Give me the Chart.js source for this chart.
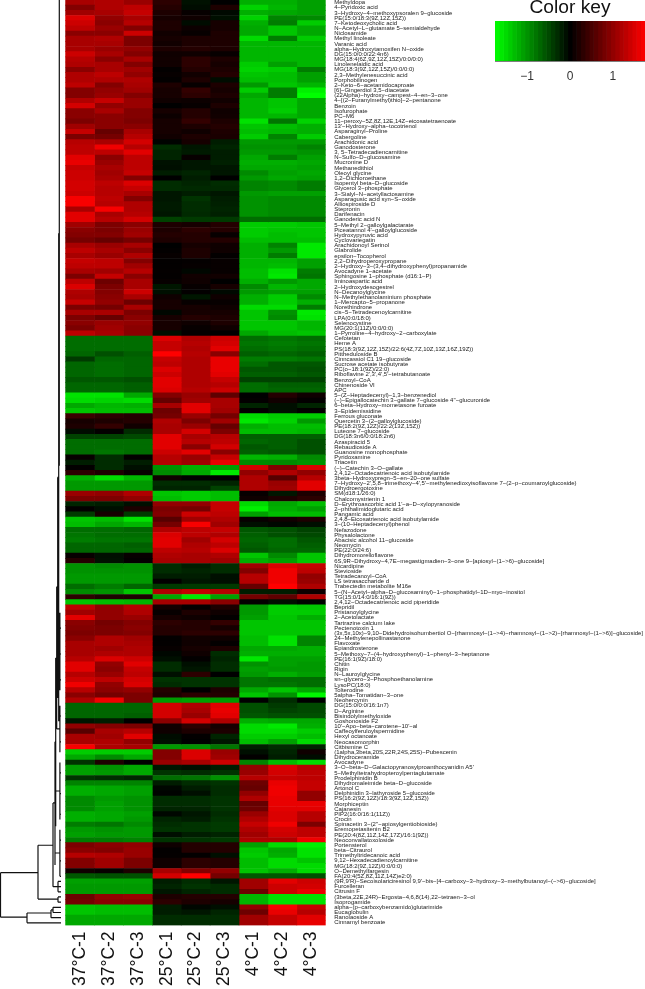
<!DOCTYPE html>
<html>
<head>
<meta charset="utf-8">
<script src="https://cdn.jsdelivr.net/npm/chart.js@4"></script>
<style>
  body { margin: 0; background: #fff; }
  #wrap { position: relative; width: 645px; height: 989px; overflow: hidden; }
  #heatChart { position: absolute; left: 0; top: 0; }
  #keyChart { position: absolute; left: 495px; top: 0; }
</style>
</head>
<body>
<div id="wrap">
  <canvas id="heatChart" width="645" height="989"></canvas>
  <canvas id="keyChart" width="150" height="95"></canvas>
</div>
<script>
const samples = ["37°C-1", "37°C-2", "37°C-3", "25°C-1", "25°C-2", "25°C-3", "4°C-1", "4°C-2", "4°C-3"];

const compounds = [
  "Methyldopa", "4-Pyridoxic acid", "3-Hydroxy-4-methoxypsoralen 9-glucoside", "PE(15:0/18:3(9Z,12Z,15Z))",
  "7-Ketodeoxycholic acid", "N-Acetyl-L-glutamate 5-semialdehyde", "Niclosamide", "Methyl linoleate",
  "Varanic acid", "alpha-Hydroxytamoxifen N-oxide", "DG(15:0/0:0/22:4n6)", "MG(18:4(6Z,9Z,12Z,15Z)/0:0/0:0)",
  "Linolenelaidic acid", "MG(18:3(9Z,12Z,15Z)/0:0/0:0)", "2,3-Methylenesuccinic acid", "Porphobilinogen",
  "2-Keto-6-acetamidocaproate", "[6]-Gingerdiol 3,5-diacetate", "(22Alpha)-hydroxy-campest-4-en-3-one",
  "4-[(2-Furanylmethyl)thio]-2-pentanone", "Benzoin", "Isofurophate", "PC-M6",
  "11-peroxy-5Z,8Z,12E,14Z-eicosatetraenoate", "13'-Hydroxy-alpha-tocotrienol", "Asparaginyl-Proline",
  "Cabergoline", "Arachidonic acid", "Ganodosterone", "3, 5-Tetradecadiencarnitine", "N-Sulfo-D-glucosamine",
  "Mucronine D", "Methanedithiol", "Oleoyl glycine", "1,2-Dichloroethane", "Isopentyl beta-D-glucoside",
  "Glycerol 3-phosphate", "3-Sialyl-N-acetyllactosamine", "Asparagusic acid syn-S-oxide", "Alliospiroside D",
  "Stepronin", "Darifenacin", "Ganoderic acid N", "5-Methyl 2-galloylgalactarate",
  "Piceatannol 4'-galloylglucoside", "Hydroxypyruvic acid", "Cyclovariegatin", "Arachidonoyl Serinol",
  "Glabrolide", "epsilon-Tocopherol", "2,2-Dihydroperoxypropane", "2-Hydroxy-3-(3,4-dihydroxyphenyl)propanamide",
  "Avocadyne 1-acetate", "Sphingosine 1-phosphate (d16:1-P)", "Iminoaspartic acid", "2-Hydroxydesogestrel",
  "N-Decanoylglycine", "N-Methylethanolaminium phosphate", "1-Mercapto-5-propanone", "Norethindrone",
  "cis-5-Tetradecenoylcarnitine", "LPA(0:0/18:0)", "Selenocystine", "MG(20:1(11Z)/0:0/0:0)",
  "1-Pyrroline-4-hydroxy-2-carboxylate", "Cefotetan", "Heme A", "PS(18:3(9Z,12Z,15Z)/22:6(4Z,7Z,10Z,13Z,16Z,19Z))",
  "Pittheduloside B", "Cinncassiol C1 19-glucoside", "Sucrose acetate isobutyrate", "PC(o-18:1(9Z)/22:0)",
  "Riboflavine 2',3',4',5'-tetrabutanoate", "Benzoyl-CoA", "Chinenoside VI", "APC",
  "5-(Z-Heptadecenyl)-1,3-benzenediol", "(-)-Epigallocatechin 3-gallate 7-glucoside 4''-glucuronide",
  "6-beta-Hydroxy-mometasone furoate", "3-Epidemissidine", "Ferrous gluconate", "Quercetin 3-(2-galloylglucoside)",
  "PE(18:2(9Z,12Z)/22:2(13Z,15Z))", "Luteone 7-glucoside", "DG(18:3n6/0:0/18:2n6)", "Azaspiracid 5",
  "Rebaudioside A", "Guanosine monophosphate", "Pyridoxamine", "Triacetin", "(-)-Catechin 3-O-gallate",
  "2,4,12-Octadecatrienoic acid isobutylamide", "3beta-Hydroxypregn-5-en-20-one sulfate",
  "7-Hydroxy-2',5,8-trimethoxy-4',5'-methylenedioxyisoflavone 7-(2-p-coumaroylglucoside)", "Dihydroergotoxine",
  "SM(d18:1/26:0)", "Chalcomystrienin 1", "D-Erythroascorbic acid 1'-a-D-xylopyranoside",
  "2-phthalimidoglutaric acid", "Pangamic acid", "2,4,8-Eicosatrienoic acid isobutylamide",
  "3-(10-Heptadecenyl)phenol", "Nefazodone", "Physalolactone", "Abacisic alcohol 11-glucoside", "Neomycin",
  "PE(22:0/24:6)", "Dihydromorelloflavone", "6S,9R-Dihydroxy-4,7E-megastigmadien-3-one 9-[apiosyl-(1->6)-glucoside]",
  "Nicardipine", "Stevioside", "Tetradecanoyl-CoA", "LS tetrasaccharide d", "Trabectedin metabolite M16e",
  "5-(N-Acetyl-alpha-D-glucosaminyl)-1-phosphatidyl-1D-myo-inositol", "TG(15:0/14:0/16:1(9Z))",
  "2,4,12-Octadecatrienoic acid piperidide", "Bepridil", "Pristanoylglycine", "2-Acetolactate",
  "Tartrazine calcium lake", "Pectenotoxin 1",
  "(3x,5x,10x)-9,10-Didehydroisohumbertiol O-[rhamnosyl-(1->4)-rhamnosyl-(1->2)-[rhamnosyl-(1->6)]-glucoside]",
  "24-Methylenepollinastanone", "Flavoxate", "Epiandrosterone", "5-Methoxy-7-(4-hydroxyphenyl)-1-phenyl-3-heptanone",
  "PE(16:1(9Z)/18:0)", "Chitin", "Rigin", "N-Lauroylglycine", "sn-glycero-3-Phosphoethanolamine", "LysoPC(18:0)",
  "Tolterodine", "5alpha-Tomatidan-3-one", "Neohercynin", "DG(15:0/0:0/16:1n7)", "D-Arginine",
  "Bisindolylmethyloxide", "Goshonoside F2", "10'-Apo-beta-carotene-10'-al", "Caffeoylferuloylspermidine",
  "Hexyl octanoate", "Neocasomorphin", "Citbismine C", "(1alpha,3beta,20S,22R,24S,25S)-Pubescenin",
  "Dihydroceramide", "Avocadyne", "3-O-beta-D-Galactopyranosylproanthocyanidin A5'",
  "5-Methyltetrahydropteroylpentaglutamate", "Prodelphinidin B", "Dihydromaleimide beta-D-glucoside", "Artonol C",
  "Delphinidin 3-lathyroside 5-glucoside", "PS(16:2(9Z,12Z)/18:3(9Z,12Z,15Z))", "Morphiceptin", "Cajanesin",
  "PIP2(16:0/16:1(11Z))", "Crocin", "Spinacetin 3-(2''-apiosylgentiobioside)", "Eremopetasitenin B2",
  "PE(20:4(8Z,11Z,14Z,17Z)/16:1(9Z))", "Neoconvallatoxoloside", "Portensterol", "beta-Citraurol",
  "Trimethyltridecanoic acid", "9,12-Hexadecadienoylcarnitine", "MG(18:2(9Z,12Z)/0:0/0:0)", "O-Demethylfargesin",
  "FA(20:4(5Z,8Z,11Z,14Z)e2:0)",
  "(9R,9'R)-Secoisolariciresinol 9,9'-bis-[4-carboxy-3-hydroxy-3-methylbutanoyl-(->6)-glucoside]",
  "Furcelleran", "Citrusin F", "(3beta,22E,24R)-Ergosta-4,6,8(14),22-tetraen-3-ol", "Isoprogamide",
  "alpha-(p-carboxybenzamido)glutarimide", "Eucaglobulin", "Ranolaoside A", "Cinnamyl benzoate",
];

// row z-scores, columns in the same order as samples
const zScores = [
  [1.15,1.2,1.05,.3,-.12,0,-1.2,-1.2,-1.1], [.9,1.2,1.3,.25,-.08,.2,-1.45,-1.25,-1.1],
  [1.1,1.15,1.35,.2,.05,-.06,-1.2,-1.15,-1.1], [1.5,1,1.15,.15,.1,-.1,-1.45,-.9,-.95],
  [1.4,.95,1.25,.2,-.08,.15,-1.2,-.85,-1.4], [1.3,1.05,.9,.2,.08,.15,-1.15,-1.35,-1.15],
  [.95,.95,1.4,.12,.05,.2,-1.15,-1.35,-1.15], [1.15,1.2,.85,.15,.2,.2,-1.5,-.85,-1.4],
  [1.15,1.15,.85,.12,.2,.2,-1.25,-1.25,-1.25], [1.15,1.05,1,.2,.25,.2,-1.25,-1.25,-1.25],
  [1.4,1.15,.9,.1,.1,.05,-1.25,-1.25,-1.25], [1.25,.95,1.15,.12,.3,.2,-1.25,-1.25,-1.25],
  [1.2,1.15,.9,.12,.3,.15,-1.4,-1.1,-1.25], [.95,1.15,1.1,.02,.25,.2,-1.45,-1.4,-.85],
  [1.2,1.3,1,.05,.12,.25,-1.35,-1.3,-1.1], [1.2,1.2,1.2,.02,.2,-.08,-1.3,-1.3,-1.1],
  [1.3,.9,1.15,.2,.05,.2,-1.05,-1.35,-1.25], [.9,1,1.1,.15,.35,.15,-1.4,-.85,-1.65],
  [.9,1.05,.9,.15,.3,.2,-1.15,-.85,-1.75], [1.2,1.35,1.05,.1,.08,.12,-1.25,-1.35,-1.15],
  [1.45,1,1.05,0,.05,.2,-1.25,-1.35,-1.15], [.95,1.15,.9,.15,.25,.1,-1.25,-1.4,-1.15],
  [.95,.95,.9,.08,.25,.12,-1.25,-1.25,-1.15], [.85,.95,.85,.15,.35,.2,-1.55,-.8,-1.45],
  [1.1,.95,.95,.15,.2,.25,-1.35,-1.3,-1.2], [1.35,.7,1.15,.15,.1,.2,-1.3,-1.25,-1.2],
  [.85,.8,1.25,.12,.2,.18,-1.4,-.9,-1.4], [1.25,1.15,1.45,-.02,.15,-.2,-1.05,-1.05,-1.05],
  [1.3,1.65,1.25,-.3,-.15,-.25,-1,-1,-.9], [1.3,1.3,1.55,-.25,-.18,-.2,-1.05,-1.05,-1],
  [1.55,.95,1.3,-.25,.05,-.2,-1.15,-.85,-1.1], [1.6,1.05,1.3,-.12,-.15,-.22,-1.2,-1.2,-1.15],
  [1.35,1.15,1.3,-.1,-.15,-.15,-1.15,-1.15,-1.1], [1.4,1.1,1.35,-.2,-.25,-.15,-.95,-1.1,-1.15],
  [1.4,1.15,.9,0,-.2,0,-1.05,-1.15,-1.1], [1.45,1.3,1.5,-.3,-.25,-.3,-.9,-.95,-.85],
  [1.45,1.25,1.35,-.3,-.28,-.28,-.9,-.95,-.85], [1.4,1.25,1.15,-.15,-.2,-.15,-1.05,-1.1,-1.1],
  [1.7,1.3,.9,-.15,-.35,-.2,-1,-.95,-.95], [1.7,1.25,1.2,-.18,-.3,-.22,-1,-.95,-.95],
  [1.15,1.7,1.2,-.18,-.3,-.25,-1,-.95,-.95], [1.55,1.15,1.25,-.15,-.28,-.22,-1,-.95,-.95],
  [1.55,1.25,1.45,-.45,-.4,-.4,-.75,-.75,-.75], [1.1,.85,.95,.2,.15,.25,-1.4,-1.4,-1.35],
  [.95,.85,1.05,.2,.3,.25,-1.4,-1.35,-1.35], [.9,.9,1.1,.25,.25,.05,-1.4,-1.3,-1.35],
  [.8,.7,.8,.2,.25,.25,-1.3,-1.3,-1.3], [1.15,1.05,1.15,0,.15,.1,-1.2,-.9,-1.6],
  [1.3,1.15,.95,.02,.2,.1,-1.2,-1.05,-1.6], [1.15,1.05,1.2,.05,.2,.02,-1.2,-.85,-1.6],
  [1.35,1.3,.9,.02,.03,.05,-1.25,-1.25,-1.1], [1.3,1.3,1.1,.02,.04,.05,-1.25,-1.3,-1.1],
  [1.15,1.1,1.25,.03,-.05,.05,-1.3,-1.55,-.85], [.85,1.35,.95,.02,.12,.12,-1.3,-1.6,-.8],
  [1.3,.75,1.15,.05,.1,0,-1.2,-1.05,-1.15], [1.5,.85,1.15,-.15,.05,.15,-.95,-1.25,-1.15],
  [1.2,.9,1.4,-.1,.02,-.06,-1.05,-1.1,-1.1], [1.15,.95,1.15,.1,-.15,.1,-1.2,-1.4,-.95],
  [1.35,1,.75,.15,.05,.05,-1.2,-1.4,-1.2], [.85,.8,1.15,.15,.15,.1,-1.5,-1.5,-.85],
  [1.15,1.15,.85,-.05,.15,.15,-1.35,-1,-1.6], [.85,.7,.95,.15,.25,.2,-1.35,-.95,-1.55],
  [.95,1.05,1,.15,.1,.2,-1.35,-1.35,-1.25], [.85,1.1,.95,.15,.05,.1,-1.35,-1.35,-1.25],
  [1.3,1.15,.95,-.1,.02,0,-1.15,-1.3,-1.35], [-.75,-.75,-.75,1.5,1.2,1.4,-.75,-.8,-.75],
  [-.75,-.75,-.75,1.35,1.25,1.45,-.8,-.85,-.8], [-.75,-.75,-.75,1.35,1.2,1.55,-.75,-.8,-.75],
  [-.7,-.55,-.65,1.75,1.25,.95,-.65,-.7,-.65], [-.4,-.7,-.7,1.35,1.2,1.6,-.85,-.85,-.8],
  [-.7,-.75,-.7,1.3,1.2,1.6,-.75,-.6,-.6], [-.7,-.75,-.7,1.5,1.2,1.6,-.6,-.6,-.55],
  [-.7,-.75,-.7,1.4,1.2,1.55,-.65,-.65,-.6], [-.6,-.6,-.55,1.55,1.2,1.35,-.45,-.45,-.45],
  [-.7,-.7,-.65,1.55,1.2,1.25,-.75,-.65,-.65], [-.7,-.7,-.65,1.5,1.25,1.4,-.75,-.7,-.7],
  [-1.55,-1.55,-1.15,.9,1.05,.65,0,.25,.1], [-1.5,-1.45,-1.5,.7,1.1,1.15,.02,.12,.02],
  [-1.15,-1.25,-1.2,1.15,1.55,1.15,-.25,-.1,-.25], [-1.35,-1.3,-1.3,.75,1.55,1.1,.02,-.1,.02],
  [.4,.3,.25,.8,1.05,.8,-1.5,-1.4,-1.4], [.15,.2,.25,1.2,.85,1.1,-1.6,-1.45,-1.05],
  [.2,.35,.12,1.15,1.05,.7,-1.2,-1.3,-1.3], [-.08,.02,-.3,1.15,1.45,.85,-1.3,-1.3,-1.25],
  [-.45,-.45,-.5,1.55,1.15,1.25,-.65,-.65,-.65], [-.75,-.75,-.75,1.55,1.25,1.3,-.7,-.65,-.55],
  [-.75,-.75,-.75,1.55,.95,1.45,-.6,-.65,-.55], [-.75,-.8,-.75,1.4,1.55,.95,-.65,-.6,-.55],
  [.05,-.3,.02,1.25,1.05,1.35,-1.25,-1.2,-.95], [-.2,-.3,-.2,1.25,1.1,1.6,-.95,-.95,-1],
  [.02,-.3,-.1,-1,-1.2,-1.1,1.45,.9,1.5], [.3,.2,.05,-.95,-1.15,-1.6,1,1.2,1],
  [-1.2,-1.5,-1.25,.1,0,0,1.2,.6,1.25], [-1.05,-1.05,-1.05,-.3,-.3,-.25,1.2,1.05,1.55],
  [-1.05,-1.05,-1.05,-.25,-.25,-.45,1.2,1.1,1.55], [1.05,1,1.2,-1.35,-1.4,-1.3,.05,-.15,.2],
  [.85,.85,1,-1.3,-1.4,-1.3,.1,.2,.3], [-.25,-.2,-.1,1,1,1.35,-1.5,-1.15,-1.3],
  [.02,-.1,.2,.85,.8,1.35,-1.65,-1.2,-1.1], [-.4,.15,-.4,.9,1.4,1.3,-1.1,-1.3,-1.3],
  [-1.35,-1.3,-1.55,.6,1.1,1.2,.05,.12,.2], [-1.3,-1.15,-1.25,.8,1.7,1.1,-.1,-.05,-.1],
  [-.75,-.75,-.7,1.2,1.3,1.35,-.6,-.55,-.45], [-.8,-.75,-.75,1.5,1.3,1.2,-.65,-.55,-.5],
  [-.85,-.8,-.8,1.55,1.1,1.45,-.7,-.75,-.6], [-.7,-.7,-.65,1.55,1.2,1.3,-.65,-.75,-.65],
  [-.7,-.7,-.7,1.3,1.25,1.5,-.6,-.7,-.7], [.05,-.1,.05,1.2,1.15,1.2,-1.35,-.95,-1.35],
  [.25,-.12,.02,1.15,1.15,1.1,-1.2,-1.1,-1.35], [-1,-.95,-1,-.3,-.2,-.3,1.1,1.5,1.35],
  [-1,-1,-1,-.3,-.25,-.3,.9,1.65,1.3], [-1.05,-1.05,-1.05,-.2,-.2,-.1,1.25,1.65,1],
  [-1.05,-1.05,-1.05,.02,-.15,-.1,1.25,1.65,1.05], [-.75,-.85,-.7,-.4,-.4,-.4,.7,1.75,1.2],
  [-.95,-1,-1.35,1.2,1.35,1.25,-.2,-.2,.1], [.3,.2,.2,-1.15,-1.6,-1.1,.8,.65,1.2],
  [-1.35,-1.3,-1.25,1.15,1.15,.95,.02,-.1,-.02], [1.3,1,1.25,.15,.02,.2,-1.05,-1.4,-1.35],
  [1.1,1,1.2,.05,.2,.1,-1.05,-1.4,-1.4], [1.55,1,1.05,.15,.1,.02,-1.1,-1.35,-1.2],
  [.95,.8,.9,.3,.25,.35,-1.35,-1.35,-1.35], [.9,.85,.95,.25,.25,.15,-1.35,-1.35,-1.35],
  [.85,.85,.9,.25,.3,.3,-1.35,-1.35,-1.35], [.95,1.2,1.1,.02,.12,.1,-1.3,-1.55,-.9],
  [1.15,1.2,1.15,.02,.1,.02,-1.3,-1.55,-.9], [1.15,1.1,1.2,.05,.15,.2,-1.15,-1.15,-1.2],
  [1.15,1.2,1.2,-.05,.1,-.3,-1.2,-1.2,-1.2], [1.25,1.5,1.4,-.1,.02,-.25,-1.6,-1.1,-1.1],
  [1.55,1,1.55,-.3,-.1,-.3,-1,-1.1,-1.05], [1.55,.95,1.35,-.3,-.15,-.3,-1.1,-1.05,-1.05],
  [1.25,1.05,1.3,-.1,.3,0,-1.05,-1.2,-1.1], [1.4,1.3,1.45,-.35,-.35,-.35,-.8,-.75,-.75],
  [1.65,1,1.5,-.3,-.35,-.35,-.8,-.8,-.75], [1.25,.95,1,.25,0,.2,-1.15,-1.35,-1.15],
  [.95,.8,.85,.2,.3,.25,-1.35,-1,-1.7], [1.2,1.65,.85,-1.05,-1.1,-1.05,0,-.3,0],
  [-.7,-.7,-.7,1.45,1.2,1.55,-.55,-.4,-.5], [-.7,-.7,-.7,1.45,1.15,1.6,-.55,-.45,-.5],
  [-.7,-.7,-.65,1.45,1.05,1.55,-.6,-.55,-.55], [-.15,-.2,0,.95,1.45,1.2,-1.2,-1.15,-1.15],
  [1,.9,.85,.1,.3,.15,-1.5,-1.6,-1.2], [.6,1.15,1.25,.1,.2,.2,-1.5,-1.5,-1.4],
  [1.15,1.1,1.55,-.08,.02,-.25,-1.4,-1.4,-1.3], [1.15,1.2,1,-.1,0,-.15,-1.3,-1.1,-1.5],
  [1.7,1.2,1.15,-1.05,-1,-.8,-.2,-.3,-.25], [-1.4,-1.4,-1.4,.9,1.5,1.05,-.1,-.25,.1],
  [-1.15,-.95,-1.15,.9,1.5,1.1,.02,-.2,-.08], [-.35,.2,0,1.05,1.15,1.4,-.9,-1.3,-1.5],
  [-1.1,-1,-1.15,-.15,-.1,-.2,1,1.5,1.25], [-1.1,-1.05,-1.15,-.35,-.3,-.35,1.05,1.45,1.3],
  [-.35,-.3,-.25,-.75,-.8,-1,1.25,1.35,1.3], [-.9,-.9,-.9,-.2,-.3,-.35,.75,1.6,1.35],
  [-1.2,-1.15,-1.1,-.05,-.2,-.3,.7,1.65,1.35], [-1.2,-1.15,-1.1,-.02,-.1,-.3,1,1.65,1],
  [-.95,-1.05,-1,-.3,-.3,-.35,1.2,1.6,1], [-.95,-1.1,-1,-.3,-.3,-.35,.7,1.6,1.6],
  [-.95,-1.1,-1,-.25,-.25,-.35,.75,1.55,1.55], [-1.2,-1.15,-1.1,-.05,-.15,-.3,1.05,1.5,1.25],
  [-1.2,-1.15,-1.05,-.25,-.2,-.35,1.2,1.5,1.25], [-.85,-.8,-.95,-.3,-.35,-.4,1.35,1.65,.85],
  [-1.05,-1,-1.05,-.35,-.35,-.4,1.2,1.45,1.3], [-1.1,-1.05,-1.05,-.1,-.2,-.25,1.1,1.4,1.3],
  [-.85,-.85,-.9,-.35,-.35,-.4,1.2,1.2,1.65], [.85,.95,1,.1,.25,.25,-1.1,-1.5,-1.65],
  [.95,.9,1.05,.02,.25,.25,-1.35,-1.15,-1.55], [1.25,1.2,1.05,.03,.02,-.1,-1.4,-1.2,-1.55],
  [.9,1.1,.85,.1,.3,.25,-1.3,-1.5,-1.35], [.9,1.1,.85,.1,.3,.25,-1.3,-1.5,-1.5],
  [.1,.05,.2,1.15,.9,1,-1.35,-1.2,-1.5], [-.6,-.55,-.55,1.45,1.75,.8,-.6,-.6,-.55],
  [-1.1,-1.1,-1.1,-.2,-.3,-.15,1.1,1.55,1.4], [-1.05,-1.05,-1.05,-.25,-.35,-.3,1.1,1.4,1.45],
  [-1.05,-1.05,-1.05,-.15,-.25,-.3,.75,1.4,1.6], [.75,1,1.05,.2,.25,.25,-1.25,-1.55,-1.55],
  [.8,.95,.95,.3,.2,.15,-1.25,-1.55,-1.55], [-1.35,-1.3,-1.3,-.2,-.05,-.1,1,1.7,1.35],
  [-1.35,-1.3,-1.3,-.2,-.15,-.25,.75,1.6,1.25], [-1.15,-1.15,-1.15,-.3,-.3,-.3,1.1,1.35,1.55],
  [-1.15,-1.15,-1.15,-.3,-.3,-.3,1.1,1.35,1.6],
];

// dendrogram: [height, topRow, bottomRow] uprights and [parentHeight, childHeight, row] branches
const dendroUprights = [
  [65.1,168.3,176.9], [27.6,163,173.4], [12.6,154.8,171], [10.6,143,166.8], [9.9,126.8,159.3], [8.9,113,140.5],
  [7.9,91.8,134.5], [6.9,44.6,139], [6.3,-.5,89.6], [38.6,176.1,178], [14.6,175.5,177], [12.6,175,176],
  [7.6,173,174], [7.6,170,172], [5.7,118,133], [5.7,136,145], [5.7,147,158], [5.7,160,169],
];
const dendroBranches = [
  [65.1,27.6,168.3], [65.1,38.6,176.9], [27.6,12.6,163], [27.6,7.6,173.4], [12.6,10.6,154.8], [12.6,7.6,171],
  [10.6,9.9,143], [10.6,5.7,164.5], [9.9,8.9,126.8], [9.9,5.7,152.5], [8.9,7.9,113], [8.9,5.7,140.5],
  [7.9,6.9,91.8], [7.9,5.7,125.5], [6.9,6.3,44.6], [38.6,14.6,176.1], [38.6,4.6,178], [14.6,12.6,175.5],
  [14.6,4.6,177], [12.6,4.6,175], [12.6,4.6,176], [7.6,4.6,173], [7.6,4.6,174], [7.6,4.6,170], [7.6,4.6,171],
  [7.6,4.6,172], [5.7,4.6,121], [5.7,4.6,126], [5.7,4.6,131], [5.7,4.6,138], [5.7,4.6,143], [5.7,4.6,149],
  [5.7,4.6,153], [5.7,4.6,157], [5.7,4.6,162], [5.7,4.6,166], [5.7,4.6,169],
];

const keyStops = [-1.7,-1.6,-1.5,-1.4,-1.3,-1.2,-1.1,-1,-.9,-.8,-.7,-.6,-.5,-.4,-.3,-.2,-.1,0,
  .1,.2,.3,.4,.5,.6,.7,.8,.9,1,1.1,1.2,1.3,1.4,1.5,1.6,1.7];
const keyTicks = [-1, 0, 1];
const keyTitle = "Color key";

const heatLeft = 65.6;
const colWidth = 28.9;
const heatRight = heatLeft + colWidth * samples.length;
const heatBottom = 925.4;
const zLimit = 1.75;

function zColor(z) {
  const level = Math.round(Math.min(Math.abs(z) / zLimit, 1) * 255);
  return z >= 0 ? `rgb(${level},0,0)` : `rgb(0,${level},0)`;
}

const heatDatasets = samples.map((sample, col) => ({
  type: "bar",
  label: sample,
  indexAxis: "y",
  xAxisID: "x",
  yAxisID: "y",
  grouped: false,
  barPercentage: 1,
  categoryPercentage: 1,
  borderWidth: 0,
  data: zScores.map(() => [col, col + 1]),
  backgroundColor: zScores.map((row) => zColor(row[col])),
}));

const dendroPoints = [];
dendroUprights.forEach(([h, top, bottom]) => {
  dendroPoints.push({ x: h, y: top }, { x: h, y: bottom }, { x: null, y: null });
});
dendroBranches.forEach(([parent, child, row]) => {
  dendroPoints.push({ x: parent, y: row }, { x: child, y: row }, { x: null, y: null });
});

new Chart(document.getElementById("heatChart").getContext("2d"), {
  data: {
    labels: compounds.map((name) => name.replace(/-/g, "−")),
    datasets: [
      ...heatDatasets,
      {
        type: "scatter",
        label: "dendrogram",
        indexAxis: "x",
        xAxisID: "xDend",
        yAxisID: "yDend",
        data: dendroPoints,
        showLine: true,
        spanGaps: false,
        borderColor: "#111",
        borderWidth: 1.2,
        pointRadius: 0,
        clip: false,
      },
    ],
  },
  options: {
    responsive: false,
    animation: false,
    indexAxis: "y",
    layout: { padding: 0 },
    plugins: { legend: { display: false }, tooltip: { enabled: false } },
    scales: {
      x: {
        type: "linear",
        position: "bottom",
        min: -heatLeft / colWidth,
        max: samples.length,
        grid: { display: false, drawTicks: false },
        border: { display: false },
        afterBuildTicks: (scale) => {
          scale.ticks = samples.map((s, i) => ({ value: i + 0.5 }));
        },
        afterFit: (scale) => {
          scale.height = 989 - heatBottom;
          scale.paddingLeft = 0;
          scale.paddingRight = 0;
        },
        ticks: {
          autoSkip: false,
          minRotation: 90,
          maxRotation: 90,
          padding: 6,
          color: "#111",
          font: { family: "Liberation Sans", size: 17.5 },
          callback: (value, index) => samples[index],
        },
      },
      y: {
        type: "category",
        position: "right",
        offset: true,
        grid: { display: false, drawTicks: false },
        border: { display: false },
        afterFit: (scale) => {
          scale.width = 645 - heatRight;
          scale.paddingTop = 0;
          scale.paddingBottom = 0;
        },
        ticks: {
          autoSkip: false,
          padding: 8.6,
          color: "#222",
          font: { family: "Liberation Sans", size: 5.98 },
        },
      },
      xDend: {
        type: "linear",
        axis: "x",
        display: false,
        reverse: true,
        min: heatLeft - heatRight,
        max: heatLeft,
      },
      yDend: {
        type: "linear",
        axis: "y",
        display: false,
        reverse: true,
        min: -0.5,
        max: compounds.length - 0.5,
      },
    },
  },
});

new Chart(document.getElementById("keyChart").getContext("2d"), {
  type: "bar",
  data: {
    labels: [""],
    datasets: keyStops.map((stop) => ({
      label: String(stop),
      grouped: false,
      barPercentage: 1,
      categoryPercentage: 1,
      borderWidth: 0,
      data: [[stop - 0.05, stop + 0.05]],
      backgroundColor: zColor(stop),
    })),
  },
  options: {
    responsive: false,
    animation: false,
    indexAxis: "y",
    layout: { padding: 0 },
    plugins: {
      legend: { display: false },
      tooltip: { enabled: false },
      title: {
        display: true,
        text: keyTitle,
        color: "#111",
        padding: { top: 0, bottom: 5.6 },
        font: { family: "Liberation Sans", size: 19.2, weight: "normal", lineHeight: 0.8 },
      },
    },
    scales: {
      x: {
        type: "linear",
        min: -zLimit,
        max: zLimit,
        grid: { display: false, tickColor: "#000", tickLength: 3, drawOnChartArea: false },
        border: { color: "#000", width: 1.5 },
        afterBuildTicks: (scale) => {
          scale.ticks = keyTicks.map((value) => ({ value }));
        },
        afterFit: (scale) => {
          scale.height = 95 - 61;
          scale.paddingLeft = 0;
          scale.paddingRight = 0;
        },
        ticks: {
          autoSkip: false,
          maxRotation: 0,
          padding: 5,
          color: "#333",
          font: { family: "Liberation Sans", size: 12 },
          callback: (value) => String(value).replace("-", "−"),
        },
      },
      y: { display: false },
    },
  },
});
</script>
</body>
</html>
